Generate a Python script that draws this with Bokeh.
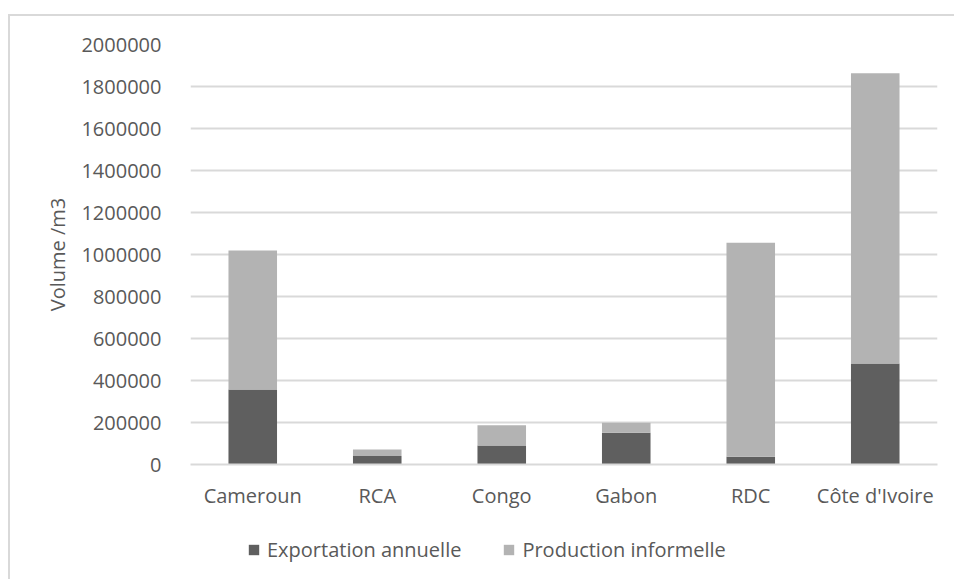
from bokeh.plotting import figure
from bokeh.layouts import column
from bokeh.models import (FactorRange, Range1d, FixedTicker, NumeralTickFormatter,
                          Legend, LegendItem)
from bokeh.embed import file_html
from bokeh.resources import INLINE

# Volumes per country (m3)
countries = ["Cameroun", "RCA", "Congo", "Gabon", "RDC", "Côte d'Ivoire"]
exportation = [357000, 41000, 90000, 151000, 37000, 481000]
production_informelle = [662000, 30000, 97000, 48000, 1019000, 1382000]
series = ["Exportation annuelle", "Production informelle"]
colors = ["#5f5f5f", "#b3b3b3"]
y_ticks = [0, 200000, 400000, 600000, 800000, 1000000, 1200000,
           1400000, 1600000, 1800000, 2000000]

FONT = "Open Sans"
TEXT = "#595959"

data = {"pays": countries, series[0]: exportation, series[1]: production_informelle}

p = figure(x_range=FactorRange(*countries, range_padding=0),
           y_range=Range1d(0, 2000000),
           width=944, height=508,
           frame_width=747, frame_height=420,
           min_border_left=180, min_border_right=17,
           min_border_top=28, min_border_bottom=60,
           output_backend="svg", toolbar_location=None,
           background_fill_color="white", border_fill_color="white")
p.outline_line_color = None

renderers = p.vbar_stack(series, x="pays", width=0.39, color=colors,
                         line_color=None, source=data)

# grid
p.xgrid.grid_line_color = None
p.ygrid.grid_line_color = "#d9d9d9"
p.ygrid.grid_line_width = 2
p.ygrid.level = "underlay"

# y axis
p.yaxis.ticker = FixedTicker(ticks=y_ticks)
p.yaxis.formatter = NumeralTickFormatter(format="0")
p.yaxis.axis_line_color = None
p.yaxis.major_tick_line_color = None
p.yaxis.minor_tick_line_color = None
p.yaxis.major_label_standoff = 23
p.yaxis.major_label_text_font = FONT
p.yaxis.major_label_text_font_size = "20px"
p.yaxis.major_label_text_color = TEXT
p.yaxis.axis_label = "Volume /m3"
p.yaxis.axis_label_text_font = FONT
p.yaxis.axis_label_text_font_size = "20px"
p.yaxis.axis_label_text_font_style = "normal"
p.yaxis.axis_label_text_color = TEXT
p.yaxis.axis_label_standoff = 7

# x axis
p.xaxis.axis_line_color = "#d9d9d9"
p.xaxis.axis_line_width = 2
p.xaxis.major_tick_line_color = None
p.xaxis.minor_tick_line_color = None
p.xaxis.major_label_standoff = 11
p.xaxis.major_label_text_font = FONT
p.xaxis.major_label_text_font_size = "20px"
p.xaxis.major_label_text_color = TEXT

# legend strip under the chart; its stacked bars are hidden, only their
# legend swatches show
leg = figure(width=944, height=55, x_range=FactorRange(*countries, range_padding=0),
             y_range=Range1d(-2, -1),
             min_border=0, output_backend="svg", toolbar_location=None,
             background_fill_color="white", border_fill_color="white")
leg.axis.visible = False
leg.grid.visible = False
leg.outline_line_color = None
keys = leg.vbar_stack(series, x="pays", width=0.39, color=colors,
                      line_color=None, source=data)
for r in keys:
    r.visible = False
legend = Legend(items=[LegendItem(label=s, renderers=[r]) for s, r in zip(series, keys)],
                orientation="horizontal", location=(57, 16),
                glyph_width=13, glyph_height=13, label_standoff=7, spacing=41,
                padding=0, margin=0,
                label_text_font=FONT, label_text_font_size="20px",
                label_text_color=TEXT,
                border_line_color=None, background_fill_alpha=0)
leg.add_layout(legend, "center")

# light frame (left and top edges) around the whole chart area
layout = column(p, leg, spacing=0,
                styles={"margin-left": "8px", "margin-top": "14px",
                        "border-left": "2px solid #d9d9d9",
                        "border-top": "2px solid #d9d9d9"})

open("out.html", "w").write(file_html(layout, INLINE))
